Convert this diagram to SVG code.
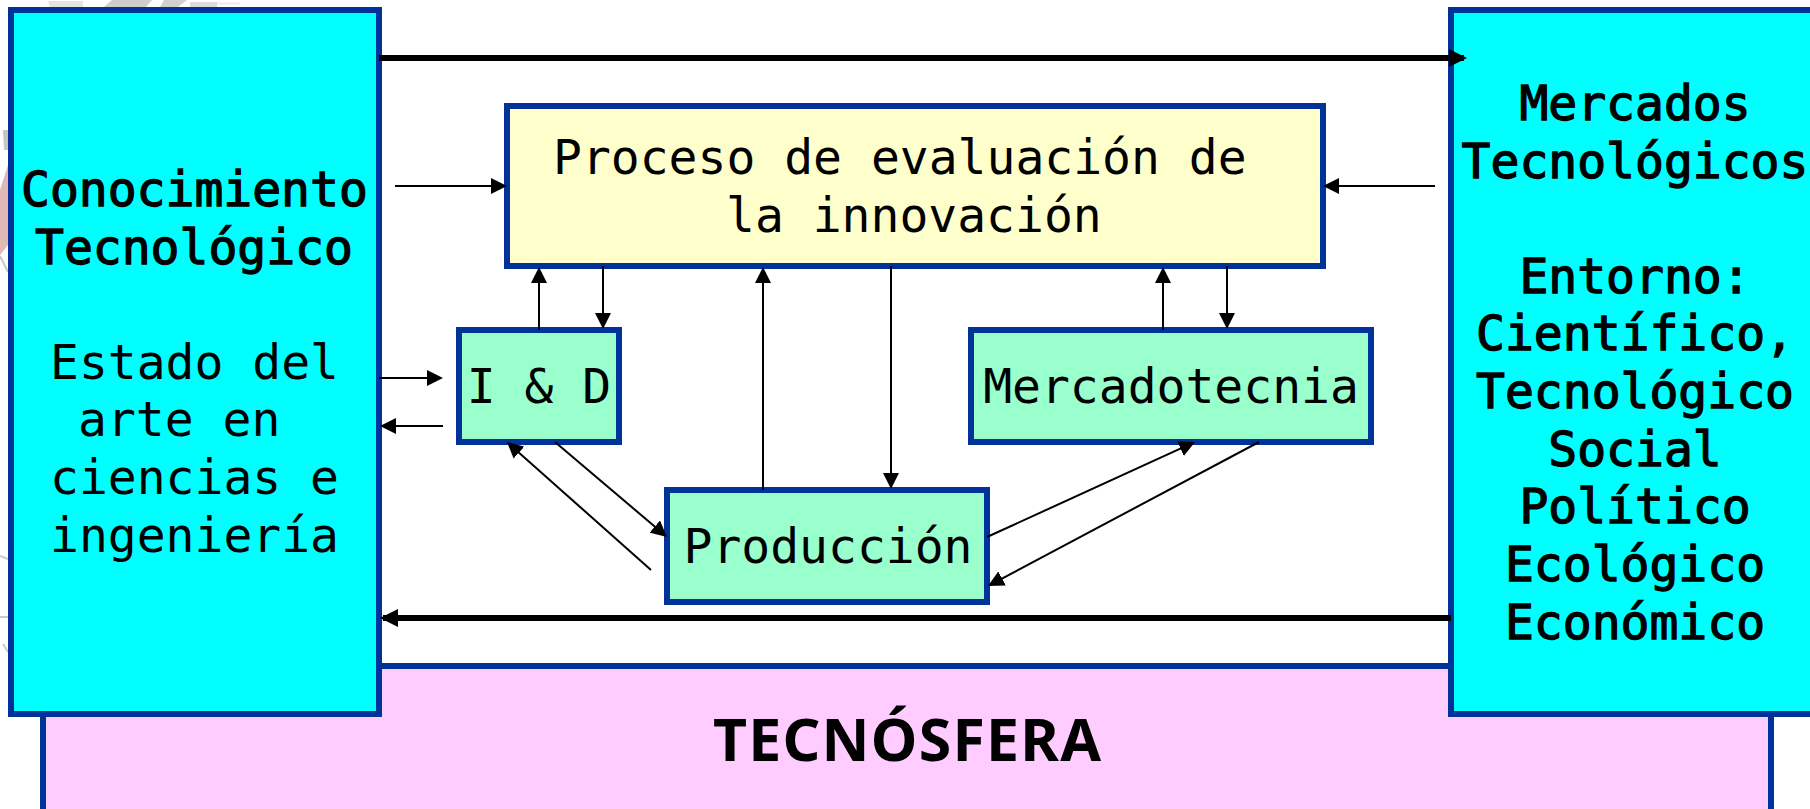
<svg xmlns="http://www.w3.org/2000/svg" width="1810" height="809" viewBox="0 0 1810 809">
<style>
.box{stroke:#003399;stroke-width:6}
.cy{fill:#00ffff}.gr{fill:#99ffcc}.ye{fill:#ffffcc}.pk{fill:#ffccff}
text{font-family:"DejaVu Sans Mono","Liberation Mono",monospace;font-size:48px;fill:#000}
.b text{stroke:#000;stroke-width:1.3}
.m{text-anchor:middle}
.tn{stroke:#000;stroke-width:2;fill:none;marker-end:url(#ah)}
.tk{stroke:#000;stroke-width:6;fill:none;marker-end:url(#ahk)}
.brand{font-family:"Noto Sans","Open Sans",sans-serif;font-weight:700;font-size:59px}
</style>
<defs>
<marker id="ah" markerUnits="userSpaceOnUse" markerWidth="16" markerHeight="16" refX="13" refY="8" orient="auto"><path d="M0,0L16,8L0,16Z" fill="#000"/></marker>
<marker id="ahk" markerUnits="userSpaceOnUse" markerWidth="18" markerHeight="18" refX="15" refY="9" orient="auto"><path d="M0,0L18,9L0,18Z" fill="#000"/></marker>
</defs>
<rect width="1810" height="809" fill="#fff"/>
<g id="fondo">
<path d="M48,1H83V7H50Z" fill="#e6e4e0"/>
<path d="M104,7L112,0H152L146,7Z" fill="#cfcdc9"/>
<path d="M160,7L164,0H187L178,7Z" fill="#d2d0cc"/>
<path d="M190,2H217V7H190Z" fill="#dcdcdc"/>
<path d="M217,2H240V5H217Z" fill="#f0f0f0"/>
<path d="M3,130H8V150H4Z" fill="#c9c5c5"/>
<path d="M8,165V245L0,255V190Z" fill="#e0b8b4"/>
<path d="M0,256L8,272" stroke="#c9c5c5" stroke-width="2"/>
<path d="M0,556L8,559M0,617H8M3,644L8,652" stroke="#c8c8d0" stroke-width="2"/>
</g>
<g id="tecnosfera">
<rect class="box pk" x="43" y="666" width="1728" height="147"/>
<text class="brand" x="713" y="761" textLength="388">TECNÓSFERA</text>
</g>
<g id="conocimiento">
<rect class="box cy" x="11" y="10" width="368" height="704"/>
<g class="b">
<text x="21" y="206">Conocimiento</text>
<text x="35" y="264">Tecnológico</text>
</g>
<text x="50" y="379">Estado del</text>
<text x="78" y="436">arte en</text>
<text x="50" y="494">ciencias e</text>
<text x="50" y="552">ingeniería</text>
</g>
<g id="mercados">
<rect class="box cy" x="1451" y="10" width="400" height="704"/>
<g class="b m">
<text x="1635" y="120">Mercados</text>
<text x="1635" y="178">Tecnológicos</text>
<text x="1635" y="293">Entorno:</text>
<text x="1635" y="350">Científico,</text>
<text x="1635" y="408">Tecnológico</text>
<text x="1635" y="466">Social</text>
<text x="1635" y="523">Político</text>
<text x="1635" y="581">Ecológico</text>
<text x="1635" y="639">Económico</text>
</g>
</g>
<g id="evaluacion">
<rect class="box ye" x="507" y="106" width="816" height="160"/>
<text x="553" y="174">Proceso de evaluación de</text>
<text x="726" y="232">la innovación</text>
</g>
<g id="id">
<rect class="box gr" x="459" y="330" width="160" height="112"/>
<text class="m" x="539" y="403">I &amp; D</text>
</g>
<g id="mercadotecnia">
<rect class="box gr" x="971" y="330" width="400" height="112"/>
<text class="m" x="1171" y="403">Mercadotecnia</text>
</g>
<g id="produccion">
<rect class="box gr" x="667" y="490" width="320" height="112"/>
<text class="m" x="828" y="563">Producción</text>
</g>
<g id="connectors">
<line class="tk" x1="379" y1="58" x2="1464" y2="58"/>
<line class="tk" x1="1451" y1="618" x2="383" y2="618"/>
<line class="tn" x1="395" y1="186" x2="504" y2="186"/>
<line class="tn" x1="1435" y1="186" x2="1326" y2="186"/>
<line class="tn" x1="379" y1="378" x2="440" y2="378"/>
<line class="tn" x1="443" y1="426" x2="383" y2="426"/>
<line class="tn" x1="539" y1="330" x2="539" y2="270"/>
<line class="tn" x1="603" y1="266" x2="603" y2="326"/>
<line class="tn" x1="763" y1="490" x2="763" y2="270"/>
<line class="tn" x1="891" y1="266" x2="891" y2="486"/>
<line class="tn" x1="1163" y1="330" x2="1163" y2="270"/>
<line class="tn" x1="1227" y1="266" x2="1227" y2="326"/>
<line class="tn" x1="555" y1="442" x2="664.7" y2="535"/>
<line class="tn" x1="651" y1="570" x2="509.2" y2="444"/>
<line class="tn" x1="987" y1="537" x2="1192.3" y2="443.2"/>
<line class="tn" x1="1259" y1="442" x2="990.6" y2="584.6"/>
</g>
</svg>
